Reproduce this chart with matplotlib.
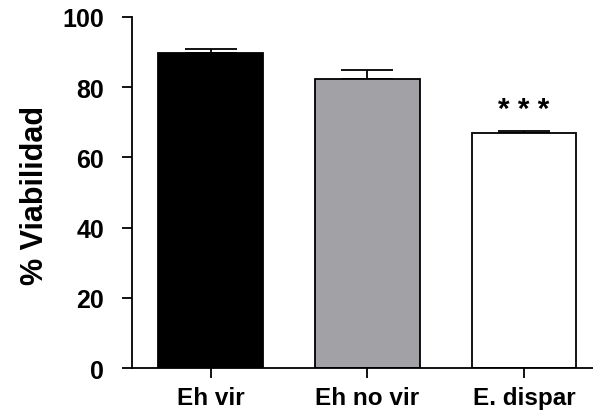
import matplotlib
matplotlib.use("Agg")
import matplotlib.pyplot as plt

categories = ["Eh vir", "Eh no vir", "E. dispar"]
values = [89.6, 82.2, 67.0]
errors = [1.3, 2.6, 0.6]
colors = ["#000000", "#a2a1a6", "#ffffff"]
yticks = [0, 20, 40, 60, 80, 100]
signif = ["", "", "* * *"]

plt.rcParams['font.family'] = ['Liberation Sans', 'DejaVu Sans']
plt.rcParams['font.weight'] = 'bold'

fig = plt.figure(figsize=(5.93, 4.14), dpi=100)
ax = fig.add_axes([132.3/593, 1-369.3/414, 1-132.3/593, (369.3-17.7)/414])

x = list(range(len(categories)))
ax.bar(x, values, width=0.668, color=colors, edgecolor="black", linewidth=1.3, zorder=2)
ax.errorbar(x, values, yerr=[[0]*len(errors), errors], fmt='none', ecolor='black',
            elinewidth=1.3, capsize=18.5, capthick=1.3, zorder=1)
for xi, v, e, s in zip(x, values, errors, signif):
    if s:
        ax.text(xi, v + e + 2.2, s, ha='center', va='bottom', fontsize=21.5, fontweight='bold')

ax.set_xlim(-0.5, 2.44)
ax.set_ylim(0, 100)
ax.set_yticks(yticks)
ax.set_xticks(x)
ax.set_xticklabels(categories)
ax.spines['top'].set_visible(False)
ax.spines['right'].set_visible(False)
for sp in ['left', 'bottom']:
    ax.spines[sp].set_linewidth(1.3)
ax.tick_params(axis='y', direction='out', length=7.2, width=1.3, pad=13, labelsize=18)
ax.tick_params(axis='x', direction='out', length=7.2, width=1.3, pad=5.5, labelsize=17.5)
for lab in ax.get_xticklabels() + ax.get_yticklabels():
    lab.set_fontweight('bold')
fig.text(35/593, 1-195/414, "% Viabilidad", rotation=90, ha='center', va='center',
         fontsize=22, fontweight='bold')

fig.savefig("out.png", dpi=100)
